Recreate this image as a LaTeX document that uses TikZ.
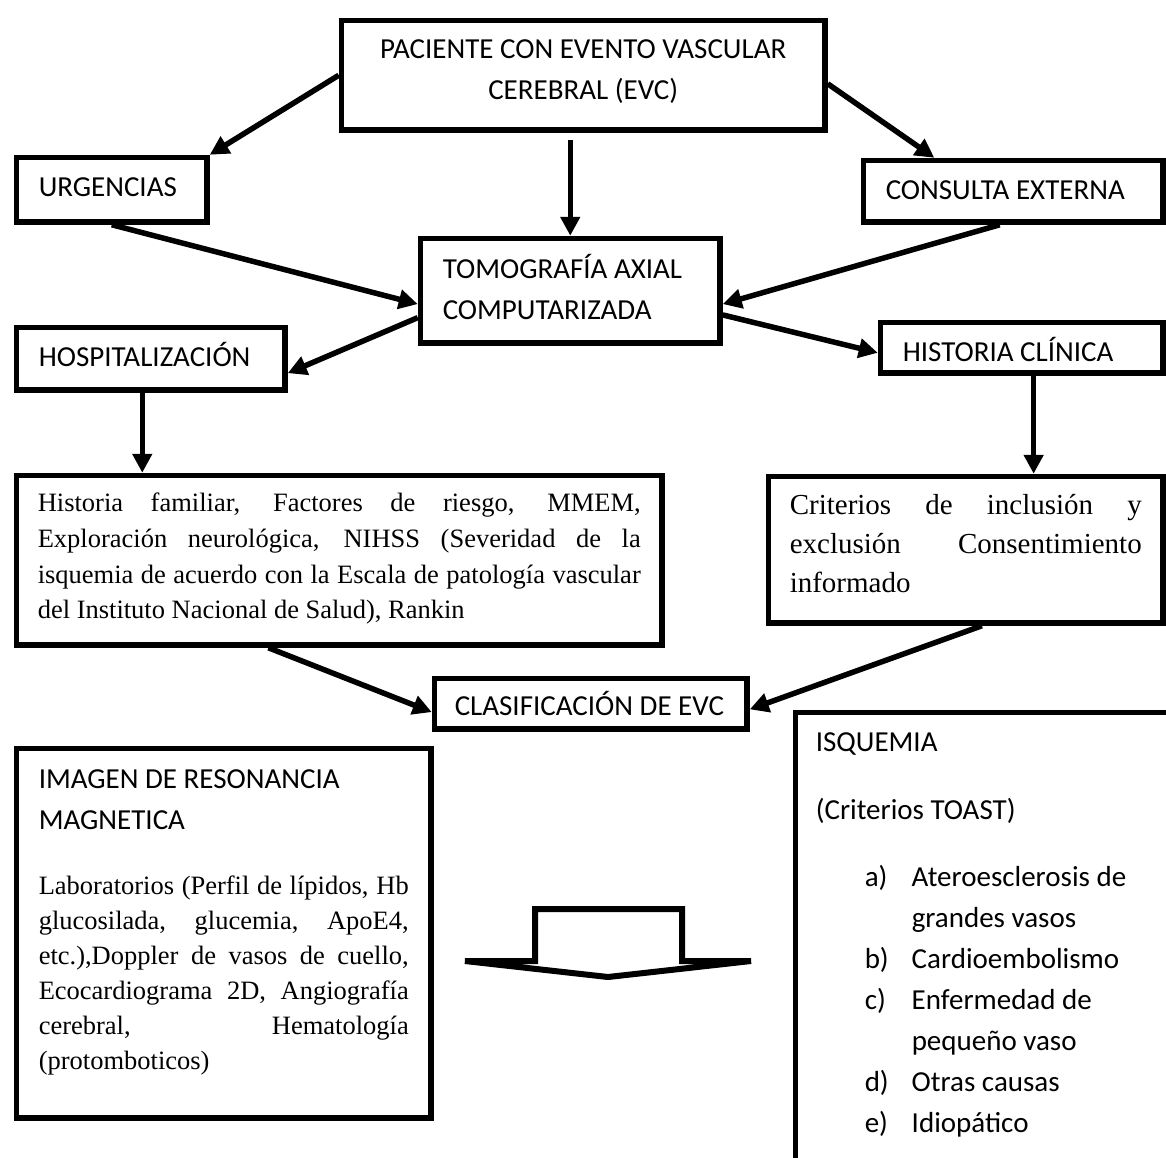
\documentclass[tikz,border=0pt]{standalone}
\usepackage{fontspec}
\usetikzlibrary{arrows.meta}
\newfontfamily\sansfam{Carlito}
\newfontfamily\seriffam{Liberation Serif}
\newcommand{\sanstext}{\sansfam\fontsize{29}{41}\selectfont}
\newcommand{\famtext}{\seriffam\fontsize{26.5}{35.7}\selectfont}
\newcommand{\crittext}{\seriffam\fontsize{29}{39}\selectfont}
\newcommand{\imgtext}{\seriffam\fontsize{26.5}{35}\selectfont}
\newcommand{\jline}[1]{\makebox[\linewidth][s]{#1}}

\begin{document}
\begin{tikzpicture}[x=1pt,y=-1pt]
        \tikzstyle{every path}=[line width=5.5pt]
        \tikzstyle{flowbox} = [draw, rectangle, anchor=north west, inner ysep=0pt, inner xsep=22.25pt, align=flush left, font=\sanstext]
        \tikzstyle{link} = [-{Triangle[length=19pt,width=19pt]}]
        \useasboundingbox (0,0) rectangle (1166,1157);
        \node[flowbox, align=flush center, inner xsep=10pt, text width=463.5pt, text height=37.75pt, text depth=71.75pt](pac) at (338.75,17.75) {PACIENTE CON EVENTO VASCULAR\\CEREBRAL (EVC)};
        \node[flowbox, text width=146pt, text height=39.25pt, text depth=25.25pt](urg) at (13.75,154.75) {URGENCIAS};
        \node[flowbox, text width=255pt, text height=39.25pt, text depth=22.25pt](cons) at (860.75,157.75) {CONSULTA EXTERNA};
        \node[flowbox, text width=255pt, text height=40.25pt, text depth=64.25pt](tomo) at (417.75,235.75) {TOMOGRAFÍA AXIAL\\COMPUTARIZADA};
        \node[flowbox, text width=224pt, text height=39.25pt, text depth=23.25pt](hosp) at (13.75,324.75) {HOSPITALIZACIÓN};
        \node[flowbox, text width=238pt, text height=39.25pt, text depth=11.25pt](hist) at (877.75,319.75) {HISTORIA CLÍNICA};
        \node[flowbox, font=\famtext, inner xsep=21.25pt, text width=603pt, text height=36.25pt, text depth=133.25pt](fam) at (13.75,472.75) {\jline{Historia familiar, Factores de riesgo, MMEM,}\\
            \jline{Exploración neurológica, NIHSS (Severidad de la}\\
            \jline{isquemia de acuerdo con la Escala de patología vascular}\\
            del Instituto Nacional de Salud), Rankin};
        \node[flowbox, font=\crittext, inner xsep=21.25pt, text width=352pt, text height=37.85pt, text depth=108.65pt](crit) at (765.75,473.75) {\jline{Criterios de inclusión y}\\
            \jline{exclusión Consentimiento}\\
            informado};
        \node[flowbox, inner xsep=20.25pt, text width=272pt, text height=37.25pt, text depth=13.25pt](clas) at (431.75,675.75) {\mbox{CLASIFICACIÓN DE EVC}};
        \node[flowbox, text width=370pt, text height=40.25pt, text depth=329.25pt](img) at (13.75,745.75) {IMAGEN DE RESONANCIA\\MAGNETICA\par
            \vspace{30pt}
            {\imgtext\jline{Laboratorios (Perfil de lípidos, Hb}\\
            \jline{glucosilada, glucemia, ApoE4,}\\
            \jline{etc.),Doppler de vasos de cuello,}\\
            \jline{Ecocardiograma 2D, Angiografía}\\
            \jline{cerebral, Hematología}\\
            (protomboticos)\par}};
        \node[flowbox, inner xsep=20.25pt, text width=400pt, text height=38.5pt, text depth=500pt](isq) at (792.75,709.75) {ISQUEMIA\\[27pt]
            (Criterios TOAST)\\[26pt]
            \hspace*{49pt}\makebox[47pt][l]{a)}Ateroesclerosis de\\
            \hspace*{96pt}grandes vasos\\
            \hspace*{49pt}\makebox[47pt][l]{b)}Cardioembolismo\\
            \hspace*{49pt}\makebox[47pt][l]{c)}Enfermedad de\\
            \hspace*{96pt}pequeño vaso\\
            \hspace*{49pt}\makebox[47pt][l]{d)}Otras causas\\
            \hspace*{49pt}\makebox[47pt][l]{e)}Idiopático};
        \draw[link] (pac.west) -- (urg.north east);
        \draw[link] (pac.358) -- (cons.157);
        \draw[link, shorten <=7pt] (tomo.north |- pac.south) -- (tomo.north);
        \draw[link] (urg.south) -- (tomo.185);
        \draw[link] (cons.248) -- (tomo.-5);
        \draw[link] (tomo.190) -- (hosp.-6);
        \draw[link] (tomo.-9) -- (hist.182);
        \draw[link] (hosp.256) -- (hosp.256 |- fam.north);
        \draw[link] (hist.293) -- (hist.293 |- crit.north);
        \draw[link] (fam.231) -- (clas.183);
        \draw[link] (crit.282) -- (clas.358);
        % hollow block arrow
        \draw[line width=6pt] (535,909) -- (682,909) -- (682,961) -- (751,961) -- (608,977) -- (465,961) -- (535,961) -- cycle;
    \end{tikzpicture}
\end{document}
